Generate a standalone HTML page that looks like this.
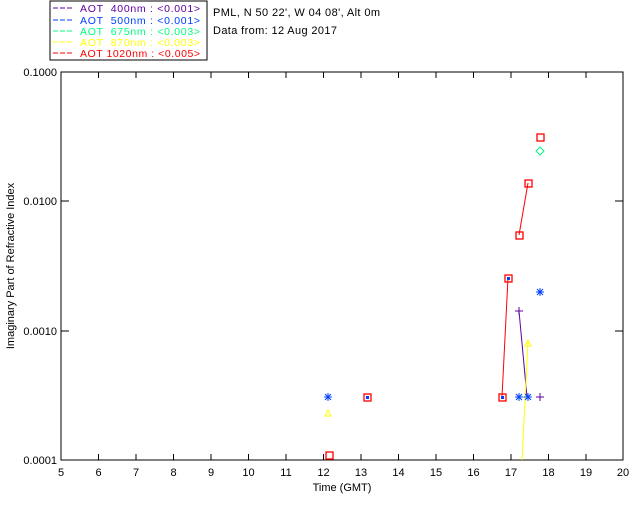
<html><body style="margin:0;background:#fff">
<svg width="640" height="512" xmlns="http://www.w3.org/2000/svg" font-family="Liberation Sans, sans-serif" font-size="11">
<rect width="640" height="512" fill="#fff"/>
<rect x="50" y="1" width="157" height="59" fill="none" stroke="#000"/>
<g font-size="10.5">
<line x1="53" y1="8" x2="73" y2="8" stroke="#6000a0" stroke-dasharray="5,2"/><text x="80" y="12" fill="#6000a0" textLength="120" xml:space="preserve">AOT  400nm : &lt;0.001&gt;</text>
<line x1="53" y1="20" x2="73" y2="20" stroke="#0040ff" stroke-dasharray="5,2"/><text x="80" y="24" fill="#0040ff" textLength="120" xml:space="preserve">AOT  500nm : &lt;0.001&gt;</text>
<line x1="53" y1="31" x2="73" y2="31" stroke="#00ff80" stroke-dasharray="5,2"/><text x="80" y="35" fill="#00ff80" textLength="120" xml:space="preserve">AOT  675nm : &lt;0.003&gt;</text>
<line x1="53" y1="42" x2="73" y2="42" stroke="#ffff00" stroke-dasharray="5,2"/><text x="80" y="46" fill="#ffff00" textLength="120" xml:space="preserve">AOT  870nm : &lt;0.003&gt;</text>
<line x1="53" y1="53" x2="73" y2="53" stroke="#ff0000" stroke-dasharray="5,2"/><text x="80" y="57" fill="#ff0000" textLength="120" xml:space="preserve">AOT 1020nm : &lt;0.005&gt;</text>
</g>
<text x="213" y="16" textLength="167">PML, N 50 22', W 04 08', Alt 0m</text>
<text x="213" y="34" textLength="124">Data from: 12 Aug 2017</text>
<rect x="61" y="72" width="562" height="388" fill="none" stroke="#000"/>
<g stroke="#000">
<path d="M98.5,72v6M136,72v6M173.5,72v6M211,72v6M248.5,72v6M286,72v6M323.5,72v6M361,72v6M398.5,72v6M436,72v6M473.5,72v6M511,72v6M548.5,72v6M586,72v6"/>
<path d="M98.5,460v-6M136,460v-6M173.5,460v-6M211,460v-6M248.5,460v-6M286,460v-6M323.5,460v-6M361,460v-6M398.5,460v-6M436,460v-6M473.5,460v-6M511,460v-6M548.5,460v-6M586,460v-6"/>
<path d="M61,201h8M61,331h8M623,201h-8M623,331h-8"/>
</g>
<g font-size="11" text-anchor="middle">
<text x="61" y="476">5</text><text x="98.5" y="476">6</text><text x="136" y="476">7</text><text x="173.5" y="476">8</text><text x="211" y="476">9</text><text x="248.5" y="476">10</text><text x="286" y="476">11</text><text x="323.5" y="476">12</text><text x="361" y="476">13</text><text x="398.5" y="476">14</text><text x="436" y="476">15</text><text x="473.5" y="476">16</text><text x="511" y="476">17</text><text x="548.5" y="476">18</text><text x="586" y="476">19</text><text x="623" y="476">20</text>
<text x="342" y="491">Time (GMT)</text>
</g>
<g text-anchor="end"><text x="57" y="76">0.1000</text><text x="57" y="205">0.0100</text><text x="57" y="335">0.0010</text><text x="57" y="464">0.0001</text></g>
<text transform="translate(14,266) rotate(-90)" text-anchor="middle">Imaginary Part of Refractive Index</text>
<g fill="none">
<path d="M502,397L508,278" stroke="#f00"/>
<path d="M519,235L528,183" stroke="#f00"/>
<path d="M519,311L527,397" stroke="#6000a0"/>
<path d="M519,397H528" stroke="#00ff80"/>
<path d="M528,342L522,460" stroke="#ff0"/>
<path d="M325,416l3,-6l3,6z" stroke="#ff0"/>
<path d="M525,346l3,-6l3,6z" stroke="#ff0"/>
<g stroke="#f00" stroke-width="1.3">
<rect x="326" y="452" width="7" height="7"/><rect x="364" y="394" width="7" height="7"/><rect x="499" y="394" width="7" height="7"/><rect x="505" y="275" width="7" height="7"/><rect x="516" y="232" width="7" height="7"/><rect x="525" y="180" width="7" height="7"/><rect x="537" y="134" width="7" height="7"/>
</g>
<path d="M540,147l4,4l-4,4l-4,-4z" stroke="#00ff80"/>
<g stroke="#0040ff"><path d="M324,397h8M328,393v8M325,394l6,6M331,394l-6,6"/><path d="M515,397h8M519,393v8M516,394l6,6M522,394l-6,6"/><path d="M524,397h8M528,393v8M525,394l6,6M531,394l-6,6"/><path d="M536,292h8M540,288v8M537,289l6,6M543,289l-6,6"/></g>
<g stroke="#6000a0"><path d="M515,311h8M519,307v8"/><path d="M536,397h8M540,393v8"/></g>
<rect x="366" y="396" width="3" height="3" fill="#0040ff"/><rect x="501" y="396" width="3" height="3" fill="#0040ff"/><rect x="507" y="277" width="3" height="3" fill="#0040ff"/>
</g>
</svg>
</body></html>
